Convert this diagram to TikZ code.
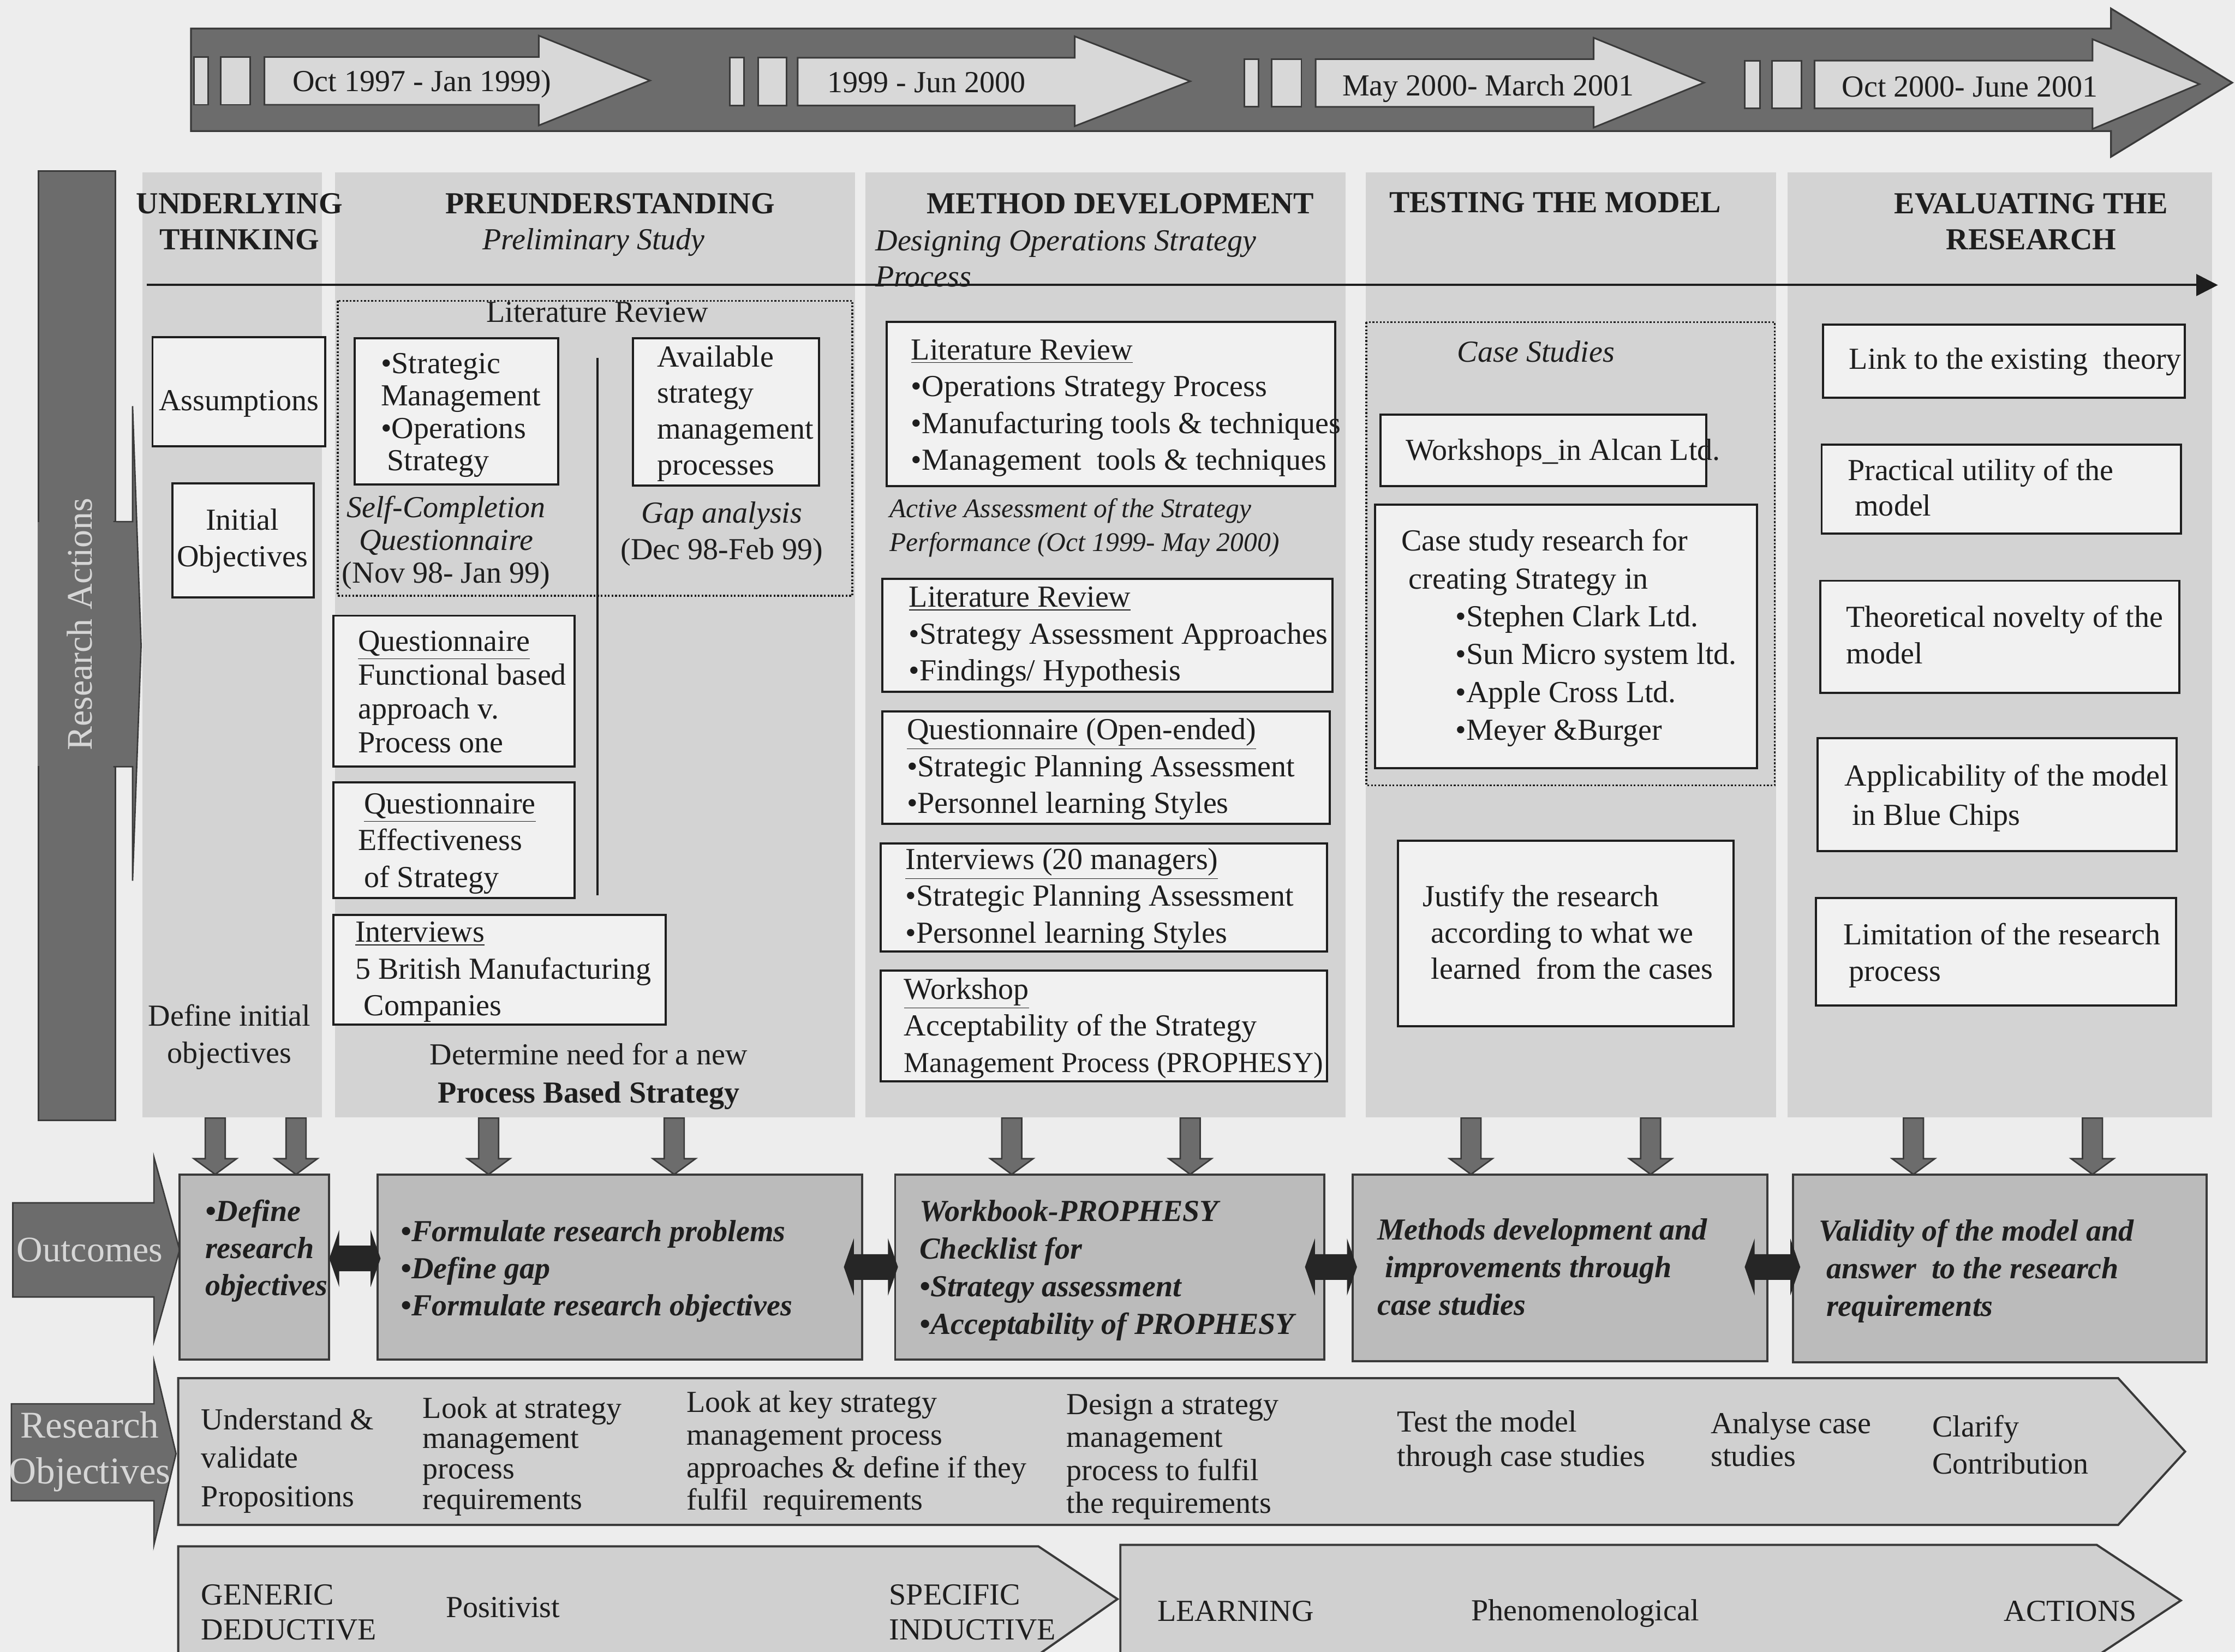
\documentclass[tikz,border=0pt]{standalone}
\usepackage{fontspec}
\setmainfont{Liberation Serif}
\usetikzlibrary{arrows.meta}
\definecolor{pagebg}{HTML}{EDEDED}
\definecolor{colbg}{HTML}{D3D3D3}
\definecolor{boxfill}{HTML}{F1F1F1}
\definecolor{dark}{HTML}{6C6C6C}
\definecolor{darkline}{HTML}{3A3A3A}
\definecolor{lightarr}{HTML}{D8D8D8}
\definecolor{outfill}{HTML}{BBBBBB}
\definecolor{bandfill}{HTML}{D0D0D0}
\definecolor{ink}{HTML}{1E1E1E}
\definecolor{pale}{HTML}{D6D6D6}
\definecolor{blackarr}{HTML}{262626}
\newcommand{\fs}[2]{\fontsize{#1}{#2}\selectfont}
% stacked lines whose baseline is the first line's baseline
\newcommand{\mlines}[1]{\begin{tabular}[t]{@{}l@{}}#1\end{tabular}}
\newcommand{\mcent}[1]{\begin{tabular}[t]{@{}c@{}}#1\end{tabular}}
% light arrow inside the timeline band: two bars, body, head
\newcommand{\tlarrow}[8]{%
  \draw[tlar] ({#1},{40+#8}) rectangle ({#2},{73.5+#8});
  \draw[tlar] ({#3},{40+#8}) rectangle ({#4},{73.5+#8});
  \draw[tlar] ({#5},{40+#8}) -- ({#6},{40+#8}) -- ({#6},{25+#8}) -- ({#7},{56.5+#8})
    -- ({#6},{88+#8}) -- ({#6},{73.5+#8}) -- ({#5},{73.5+#8}) -- cycle;}
% downward block arrow from a phase column to its outcome box
\newcommand{\downarr}[1]{%
  \draw[darr] ({#1-7},784.5) -- ({#1+7},784.5) -- ({#1+7},813) -- ({#1+15},813)
    -- (#1,824) -- ({#1-15},813) -- ({#1-7},813) -- cycle;}
% black double-headed block arrow between outcome boxes
\newcommand{\dblarr}[3]{%
  \fill[blackarr] (#1,#3) -- ({#1+7},{#3-20}) -- ({#1+7},{#3-9}) -- ({#2-7},{#3-9})
    -- ({#2-7},{#3-20}) -- (#2,#3) -- ({#2-7},{#3+20}) -- ({#2-7},{#3+9})
    -- ({#1+7},{#3+9}) -- ({#1+7},{#3+20}) -- cycle;}
\begin{document}
\begin{tikzpicture}[x=0.02783cm, y=-0.02783cm,
  box/.style={draw=ink, line width=1.2pt, fill=boxfill},
  dotbox/.style={draw=ink, line width=1pt, densely dotted},
  tlar/.style={draw=darkline, line width=0.9pt, fill=lightarr},
  darr/.style={draw=darkline, line width=0.8pt, fill=dark},
  outbox/.style={draw=darkline, line width=1.2pt, fill=outfill},
  band/.style={draw=darkline, line width=1.2pt, fill=bandfill},
  label/.style={draw=darkline, line width=0.8pt, fill=dark},
  txt/.style={anchor=base west, inner sep=0pt, text=ink, font=\fs{17}{#1}},
  txt/.default=20.4,
  ctr/.style={anchor=base, inner sep=0pt, text=ink, font=\fs{17}{#1}},
  ctr/.default=20.4]
\useasboundingbox (0,0) rectangle (1568,1159);
\fill[pagebg] (0,0) rectangle (1568,1159);

% ---------------- timeline ----------------
\draw[line width=1pt, draw=darkline, fill=dark] (134,20) -- (1481,20) -- (1481,6)
  -- (1566,58) -- (1481,110) -- (1481,92) -- (134,92) -- cycle;
\tlarrow{136}{146}{155}{175.5}{185.5}{378}{456}{0}
\tlarrow{512}{522}{532}{552}{559.6}{754}{835}{0.5}
\tlarrow{873}{883}{892}{913}{923}{1118}{1195.5}{1.5}
\tlarrow{1224}{1234.6}{1243}{1264}{1273}{1468}{1543}{2.5}
\node[ctr] (t1) at (296,64) {Oct 1997 - Jan 1999)};
\node[ctr] (t2) at (650,65) {1999 - Jun 2000};
\node[ctr] (t3) at (1044,67) {May 2000- March 2001};
\node[ctr] (t4) at (1382,68) {Oct 2000- June 2001};

% ---------------- research actions bar ----------------
\draw[label] (27,120) rectangle (81,786);
\draw[label] (80,366) -- (93,366) -- (93,285) -- (99,453) -- (93,618) -- (93,538) -- (80,538) -- cycle;
\fill[dark] (26.5,366.5) rectangle (81.5,537.5);
\node[rotate=90, inner sep=0pt, text=pale, font=\fs{20}{24}] (ra) at (56,438) {Research Actions};

% ---------------- phase columns ----------------
\fill[colbg] (100,121) rectangle (226,784);
\fill[colbg] (235,121) rectangle (600,784);
\fill[colbg] (607,121) rectangle (944,784);
\fill[colbg] (958,121) rectangle (1246,784);
\fill[colbg] (1254,121) rectangle (1552,784);

\draw[line width=1.2pt, ink, -{Triangle[length=12pt, width=12pt]}] (103,200) -- (1556,200);

\node[ctr=19.8, font=\fs{17}{19.8}\bfseries] (h1) at (168,150) {\mcent{UNDERLYING\\THINKING}};
\node[ctr, font=\fs{17}{20}\bfseries] (h2) at (428,150) {PREUNDERSTANDING};
\node[ctr, font=\fs{17}{20}\itshape] (h2s) at (416.5,175) {Preliminary Study};
\node[ctr, font=\fs{17}{20}\bfseries] (h3) at (786,150) {METHOD DEVELOPMENT};
\node[txt, font=\fs{17}{19.8}\itshape] (h3s) at (614,176) {\mlines{Designing Operations Strategy\\Process}};
\node[ctr, font=\fs{17}{20}\bfseries] (h4) at (1091,149) {TESTING THE MODEL};
\node[ctr=19.8, font=\fs{17}{19.8}\bfseries] (h5) at (1425,150) {\mcent{EVALUATING THE\\RESEARCH}};

% ---------------- underlying thinking ----------------
\draw[box] (107,236.5) rectangle (228,313);
\node[ctr] (assum) at (167.5,288) {Assumptions};
\draw[box] (121,339) rectangle (220,419);
\node[ctr=20.2] (initobj) at (170,372) {\mcent{Initial\\Objectives}};
\node[ctr] (definit) at (161,720) {\mcent{Define initial\\objectives}};

% ---------------- preunderstanding ----------------
\draw[dotbox] (237,211) rectangle (598,418);
\node[ctr] (litrev) at (419,226) {Literature Review};
\draw[box] (249,237.5) rectangle (391.5,340);
\node[txt=18] (smos) at (267,262) {\mlines{•Strategic\\Management\\•Operations\\\hspace*{3.5pt}Strategy}};
\node[ctr=18.2] (scq) at (313,363) {\mcent{\textit{Self-Completion}\\\textit{Questionnaire}\\(Nov 98- Jan 99)}};
\draw[line width=1.2pt, ink] (419,251) -- (419,628);
\draw[box] (444,237.5) rectangle (574.6,340.6);
\node[txt=20] (avail) at (460.8,257.5) {\mlines{Available\\strategy\\management\\processes}};
\node[ctr=20.1] (gap) at (506.5,367) {\mcent{\textit{Gap analysis}\\(Dec 98-Feb 99)}};
\draw[box] (234,432) rectangle (403,538);
\node[txt=18.8] (q1) at (251,457) {\mlines{\underline{Questionnaire}\\Functional based\\approach v.\\Process one}};
\draw[box] (234,549) rectangle (403,630);
\node[txt] (q2) at (251,571) {\mlines{\hspace*{3.3pt}\underline{Questionnaire}\\Effectiveness\\\hspace*{3.3pt}of Strategy}};
\draw[box] (234,642) rectangle (467,719);
\node[txt] (iv) at (249,661) {\mlines{\underline{Interviews}\\5 British Manufacturing\\\hspace*{4.8pt}Companies}};
\node[ctr=21.4] (detneed) at (413,747) {\mcent{Determine need for a new\\\textbf{Process Based Strategy}}};

% ---------------- method development ----------------
\draw[box] (622,226) rectangle (936.6,341);
\node[txt] (lr1) at (639,252.5) {\mlines{\underline{Literature Review}\\•Operations Strategy Process\\•Manufacturing tools \& techniques\\•Management\ \ tools \& techniques}};
\node[txt, font=\fs{15}{19}\itshape] (aa) at (624,363) {\mlines{Active Assessment of the Strategy\\Performance (Oct 1999- May 2000)}};
\draw[box] (619,406) rectangle (935,485.5);
\node[txt] (lr2) at (637.5,426) {\mlines{\underline{Literature Review}\\•Strategy Assessment Approaches\\•Findings/ Hypothesis}};
\draw[box] (619,499) rectangle (933,578);
\node[txt] (q3) at (636,519) {\mlines{\underline{Questionnaire (Open-ended)}\\•Strategic Planning Assessment\\•Personnel learning Styles}};
\draw[box] (617.7,592) rectangle (931,667.6);
\node[txt] (iv2) at (635,610) {\mlines{\underline{Interviews (20 managers)}\\•Strategic Planning Assessment\\•Personnel learning Styles}};
\draw[box] (617.7,681) rectangle (931,758.6);
\node[txt] (ws) at (634,701) {\mlines{\underline{Workshop}\\Acceptability of the Strategy\\{\fontsize{16}{20.4}\selectfont Management Process (PROPHESY)}}};

% ---------------- testing the model ----------------
\draw[dotbox] (958.5,226) rectangle (1245,551);
\node[ctr, font=\fs{17}{20}\itshape] (cs) at (1077.6,254) {Case Studies};
\draw[box] (968.6,291) rectangle (1197,341);
\node[txt] (alcan) at (986,323) {Workshops\_in Alcan Ltd.};
\draw[box] (964.5,354) rectangle (1232.5,539);
\node[txt=21] (csr) at (982.8,386.6) {\mlines{Case study research for\\\hspace*{4.1pt}creating Strategy in\\\hspace*{30.2pt}•Stephen Clark Ltd.\\\hspace*{30.2pt}•Sun Micro system ltd.\\\hspace*{30.2pt}•Apple Cross Ltd.\\\hspace*{30.2pt}•Meyer \&Burger}};
\draw[box] (980.6,590) rectangle (1216,720);
\node[txt=20.2] (just) at (998,636) {\mlines{Justify the research\\\hspace*{4.5pt}according to what we\\\hspace*{4.5pt}learned\ \ from the cases}};

% ---------------- evaluating the research ----------------
\draw[box] (1279,227.6) rectangle (1532.6,279);
\node[txt] (link) at (1297,259) {Link to the existing\ \ theory};
\draw[box] (1278,312) rectangle (1530,374.4);
\node[txt=19.7] (prac) at (1296,337) {\mlines{Practical utility of the\\\hspace*{4pt}model}};
\draw[box] (1277,407.5) rectangle (1529,486);
\node[txt=20.4] (theo) at (1295,440) {\mlines{Theoretical novelty of the\\model}};
\draw[box] (1275,518) rectangle (1527,597);
\node[txt=21.6] (appl) at (1294,551.6) {\mlines{Applicability of the model\\\hspace*{4pt}in Blue Chips}};
\draw[box] (1274,630) rectangle (1526.5,705.5);
\node[txt=20.4] (limit) at (1293,662.7) {\mlines{Limitation of the research\\\hspace*{3.2pt}process}};

% ---------------- arrows down to the outcomes ----------------
\downarr{151}\downarr{207.7}\downarr{342.8}\downarr{473}\downarr{709.8}
\downarr{835}\downarr{1032}\downarr{1158}\downarr{1342.4}\downarr{1468}

% ---------------- outcomes ----------------
\draw[label] (9,844) -- (108,844) -- (108,812) -- (126,877) -- (108,941) -- (108,910) -- (9,910) -- cycle;
\node[inner sep=0pt, text=pale, font=\fs{20}{24}] (outl) at (63,877) {Outcomes};

\draw[outbox] (126,824) rectangle (231,954);
\draw[outbox] (265,824) rectangle (605,954);
\draw[outbox] (628,824) rectangle (929,954);
\draw[outbox] (949,824) rectangle (1240,955);
\draw[outbox] (1258,824) rectangle (1548,956);
\node[txt, font=\fs{17}{20.6}\bfseries\itshape] (oa) at (143.7,857) {\mlines{•Define\\research\\objectives}};
\node[txt, font=\fs{17}{20.6}\bfseries\itshape] (ob) at (281,871) {\mlines{•Formulate research problems\\•Define gap\\•Formulate research objectives}};
\node[txt, font=\fs{17}{20.9}\bfseries\itshape] (oc) at (645,857) {\mlines{Workbook-PROPHESY\\Checklist for\\•Strategy assessment\\•Acceptability of PROPHESY}};
\node[txt, font=\fs{17}{20.9}\bfseries\itshape] (od) at (966,870) {\mlines{Methods development and\\\hspace*{4.4pt}improvements through\\case studies}};
\node[txt, font=\fs{17}{20.9}\bfseries\itshape] (oe) at (1276,870.6) {\mlines{Validity of the model and\\\hspace*{4pt}answer\ \ to the research\\\hspace*{4pt}requirements}};
\dblarr{231}{267}{883}
\dblarr{592}{630}{889}
\dblarr{915.5}{952}{889}
\dblarr{1224}{1263}{889}

% ---------------- research objectives ----------------
\draw[label] (8,985) -- (108,985) -- (108,955) -- (123.5,1020) -- (108,1084) -- (108,1053) -- (8,1053) -- cycle;
\node[ctr=25.3, text=pale, font=\fs{21}{25.3}] (rol) at (63,1009) {\mcent{Research\\Objectives}};
\draw[band] (125,967) -- (1486,967) -- (1533,1018.5) -- (1486,1070) -- (125,1070) -- cycle;
\node[txt=21.4] (ro1) at (141,1003) {\mlines{Understand \&\\validate\\Propositions}};
\node[txt=16.9] (ro2) at (296.4,995) {\mlines{Look at strategy\\management\\process\\requirements}};
\node[txt=18.1] (ro3) at (481.5,991) {\mlines{Look at key strategy\\management process\\approaches \& define if they\\fulfil\ \ requirements}};
\node[txt=18.2] (ro4) at (748,992.6) {\mlines{Design a strategy\\management\\process to fulfil\\the requirements}};
\node[txt=19] (ro5) at (980,1004.7) {\mlines{Test the model\\through case studies}};
\node[txt=18.2] (ro6) at (1200,1006) {\mlines{Analyse case\\studies}};
\node[txt=20.6] (ro7) at (1355.4,1008) {\mlines{Clarify\\Contribution}};

% ---------------- paradigm bands ----------------
\draw[band] (125,1085) -- (728.5,1085) -- (784,1122) -- (728.5,1161) -- (125,1161) -- cycle;
\draw[band] (786,1084) -- (1471,1084) -- (1530,1123) -- (1471,1162) -- (786,1162) -- cycle;
\node[txt=19.5] (gd) at (141,1126) {\mlines{GENERIC\\DEDUCTIVE}};
\node[txt] (pos) at (312.6,1135) {Positivist};
\node[txt=19.5] (si) at (623.6,1126) {\mlines{SPECIFIC\\INDUCTIVE}};
\node[txt] (learn) at (811.7,1137.5) {LEARNING};
\node[txt] (phen) at (1032,1137) {Phenomenological};
\node[txt] (act) at (1405.7,1137.5) {ACTIONS};
\end{tikzpicture}
\end{document}
